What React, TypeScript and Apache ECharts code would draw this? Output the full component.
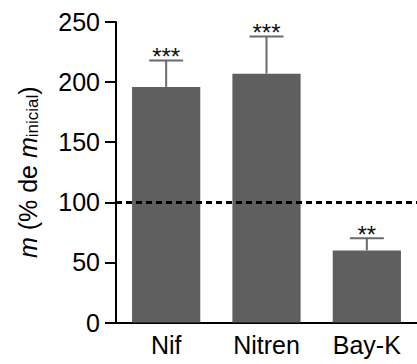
import React, { useEffect, useRef } from "react";
import * as echarts from "echarts";

const categories = ["Nif", "Nitren", "Bay-K"];
const means = [196, 207, 60];
const upperErr = [218, 238, 70];
const stars = ["***", "***", "**"];
const yTicks = [0, 50, 100, 150, 200, 250];
const refLine = 100;

export default function App() {
  const ref = useRef<HTMLDivElement>(null);
  useEffect(() => {
    const chart = echarts.init(ref.current!, null, { renderer: "svg" });
    const font = "'Liberation Sans', Arial, sans-serif";
    chart.setOption({
      animation: false,
      grid: { left: 116, right: 0, top: 22, bottom: 41.5 },
      xAxis: {
        type: "category",
        data: categories,
        axisLine: { lineStyle: { color: "#000", width: 2 } },
        axisTick: { show: false },
        axisLabel: { color: "#000", fontSize: 25, fontFamily: font, margin: 10 },
      },
      yAxis: {
        type: "value",
        min: yTicks[0],
        max: yTicks[yTicks.length - 1],
        interval: 50,
        splitLine: { show: false },
        axisLine: { show: true, lineStyle: { color: "#000", width: 2 } },
        axisTick: { show: true, length: 11, lineStyle: { color: "#000", width: 2 } },
        axisLabel: { color: "#000", fontSize: 25, fontFamily: font, margin: 16 },
        name: "{i|m} (% de {i|m}{s|inicial})",
        nameLocation: "middle",
        nameGap: 75,
        nameTextStyle: {
          color: "#000",
          fontSize: 25,
          fontFamily: font,
          rich: {
            i: { fontStyle: "italic", fontSize: 25, fontFamily: font, color: "#000" },
            s: { fontSize: 17, fontFamily: font, color: "#000", padding: [10, 0, 0, 0] },
          },
        },
      },
      series: [
        {
          type: "bar",
          data: means,
          barWidth: "68%",
          itemStyle: { color: "#5f5f5f" },
          markLine: {
            silent: true,
            symbol: "none",
            label: { show: false },
            lineStyle: { color: "#000", width: 3, type: [6, 4] },
            data: [{ yAxis: refLine }],
            z: 10,
          },
          z: 2,
        },
        {
          type: "custom",
          z: 3,
          data: categories.map((_, i) => [i, means[i], upperErr[i]]),
          renderItem: (params: any, api: any) => {
            const i = api.value(0);
            const lo = api.coord([i, api.value(1)]);
            const hi = api.coord([i, api.value(2)]);
            const half = 17;
            return {
              type: "group",
              children: [
                {
                  type: "line",
                  shape: { x1: lo[0], y1: lo[1], x2: hi[0], y2: hi[1] },
                  style: { stroke: "#6a6a6a", lineWidth: 2 },
                },
                {
                  type: "line",
                  shape: { x1: hi[0] - half, y1: hi[1], x2: hi[0] + half, y2: hi[1] },
                  style: { stroke: "#6a6a6a", lineWidth: 2 },
                },
                {
                  type: "text",
                  style: {
                    text: stars[params.dataIndex],
                    x: hi[0],
                    y: hi[1] - 4,
                    align: "center",
                    verticalAlign: "middle",
                    fontSize: 24,
                    fontFamily: font,
                    fill: "#111",
                  },
                },
              ],
            };
          },
        },
      ],
    });
    return () => chart.dispose();
  }, []);
  return (
    <div
      ref={ref}
      style={{ position: "fixed", left: 0, top: 0, width: 417, height: 364, background: "#fff" }}
    />
  );
}
